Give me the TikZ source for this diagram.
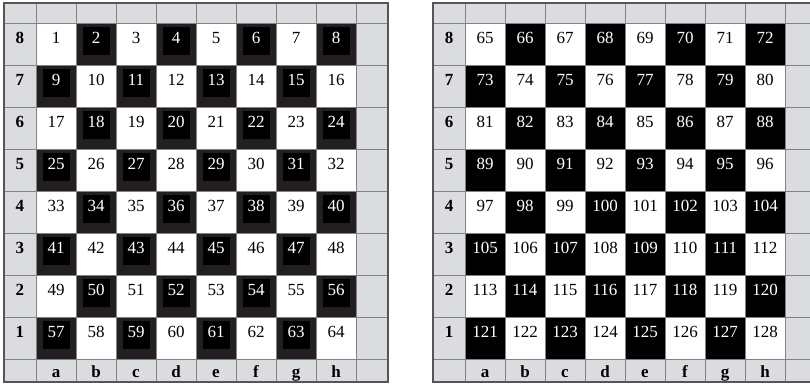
\documentclass[tikz,border=0pt]{standalone}
\usepackage{fontspec}
\setmainfont{Liberation Serif}
\usetikzlibrary{positioning}
\definecolor{LabelGray}{RGB}{219,220,223}
\definecolor{FrameDark}{RGB}{35,31,32}
\definecolor{GridGray}{RGB}{130,130,130}
\definecolor{EdgeGray}{RGB}{85,85,85}

\tikzset{
  num/.style={font=\fontsize{17}{20}\selectfont, inner sep=0pt, anchor=base},
  lbl/.style={num, font=\fontsize{17}{20}\selectfont\bfseries},
  gridline/.style={draw=GridGray, line width=1pt},
  edgeline/.style={draw=EdgeGray, line width=1.4pt}
}

\begin{document}
\begin{tikzpicture}[x=1pt,y=-1pt]
  \useasboundingbox (0,0) rectangle (810,384);
  \clip (0,0) rectangle (810,384);

  % Left board
  \begin{scope}[shift={(4,3)}]
    \fill[LabelGray] (0,0) rectangle (384,379);
    \fill[white] (32,20) rectangle (352,356);
    \foreach \r in {0,...,7} {
      \foreach \f in {0,...,7} {
        \pgfmathtruncatemacro\n{8*\r+\f+1}
        \pgfmathtruncatemacro\odd{mod(\r+\f,2)}
        \ifnum\odd=1
          \fill[FrameDark] (32+40*\f,20+42*\r) rectangle ++(40,42);
          \fill[black] (39+40*\f,24+42*\r) rectangle ++(27,28);
          \node[num, text=white] (L\n) at (52+40*\f,40+42*\r) {\n};
        \else
          \node[num] (L\n) at (52+40*\f,40+42*\r) {\n};
        \fi
      }
    }
    % Grid
    \foreach \x in {32,72,...,352} \draw[gridline] (\x,0) -- (\x,379);
    \foreach \y in {20,62,...,356} \draw[gridline] (0,\y) -- (384,\y);
    \draw[edgeline] (0,0) rectangle (384,379);
    % Ranks and files
    \foreach \r in {0,...,7} {
      \pgfmathtruncatemacro\rank{8-\r}
      \node[lbl] (Lrank\rank) at (16,40+42*\r) {\rank};
    }
    \foreach \f/\file in {0/a,1/b,2/c,3/d,4/e,5/f,6/g,7/h}
      \node[lbl] (Lfile\file) at (52+40*\f,374) {\file};
  \end{scope}

  % Right board
  \begin{scope}[shift={(433,3)}]
    \fill[LabelGray] (0,0) rectangle (384,379);
    \fill[white] (32,20) rectangle (352,356);
    \foreach \r in {0,...,7} {
      \foreach \f in {0,...,7} {
        \pgfmathtruncatemacro\n{64+8*\r+\f+1}
        \pgfmathtruncatemacro\odd{mod(\r+\f,2)}
        \ifnum\odd=1
          \fill[black] (32+40*\f,20+42*\r) rectangle ++(40,42);
          \node[num, text=white] (R\n) at (52+40*\f,40+42*\r) {\n};
        \else
          \node[num] (R\n) at (52+40*\f,40+42*\r) {\n};
        \fi
      }
    }
    % Grid
    \foreach \x in {32,72,...,352} \draw[gridline] (\x,0) -- (\x,379);
    \foreach \y in {20,62,...,356} \draw[gridline] (0,\y) -- (384,\y);
    \draw[edgeline] (0,0) rectangle (384,379);
    % Ranks and files
    \foreach \r in {0,...,7} {
      \pgfmathtruncatemacro\rank{8-\r}
      \node[lbl] (Rrank\rank) at (16,40+42*\r) {\rank};
    }
    \foreach \f/\file in {0/a,1/b,2/c,3/d,4/e,5/f,6/g,7/h}
      \node[lbl] (Rfile\file) at (52+40*\f,374) {\file};
  \end{scope}
\end{tikzpicture}
\end{document}
